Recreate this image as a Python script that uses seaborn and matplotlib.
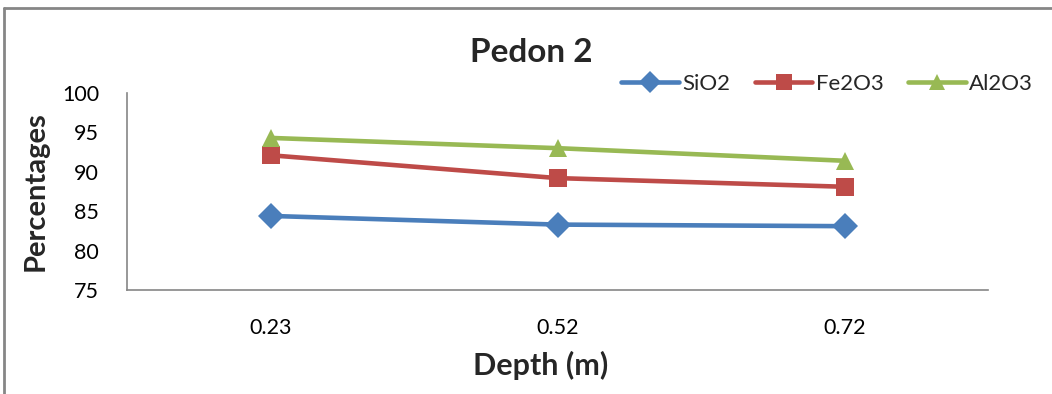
import matplotlib
matplotlib.use("Agg")
import matplotlib.pyplot as plt
import seaborn as sns
import pandas as pd
from matplotlib.lines import Line2D

depths = ["0.23", "0.52", "0.72"]
sio2 = [84.4, 83.3, 83.1]
fe2o3 = [92.1, 89.2, 88.1]
al2o3 = [94.3, 93.0, 91.4]
series_names = ["SiO2", "Fe2O3", "Al2O3"]
yticks = [75, 80, 85, 90, 95, 100]

sns.set_theme(style="white")
plt.rcParams['font.family'] = ['Lato', 'DejaVu Sans']

df = pd.DataFrame({
    "Depth": depths * 3,
    "Value": sio2 + fe2o3 + al2o3,
    "Series": [s for s in series_names for _ in depths],
})

colors = {"SiO2": "#4A7EBB", "Fe2O3": "#BE4B48", "Al2O3": "#98B954"}
markers = {"SiO2": "D", "Fe2O3": "s", "Al2O3": "^"}

fig = plt.figure(figsize=(10.52, 3.94), dpi=100)
ax = fig.add_axes([127/1052, 1 - 290/394, (988-127)/1052, (290-93)/394])

sns.lineplot(data=df, x="Depth", y="Value", hue="Series", style="Series",
             palette=colors, markers=markers, dashes=False, sort=False,
             linewidth=3.3, markersize=13, markeredgewidth=0, ax=ax)

ax.set_xlim(-0.5, 2.5)
ax.set_ylim(75, 100)
ax.set_yticks(yticks)
ax.tick_params(axis="both", length=0, labelsize=15.5, colors="black")
ax.tick_params(axis="x", pad=20)
ax.tick_params(axis="y", pad=20)
for s in ["top", "right"]:
    ax.spines[s].set_visible(False)
for s in ["left", "bottom"]:
    ax.spines[s].set_color("#868686")
    ax.spines[s].set_linewidth(1.2)

ax.set_xlabel("Depth (m)", fontsize=22, fontweight="bold", va="center")
ax.xaxis.set_label_coords((541-127)/861, (290-365)/197)
ax.set_ylabel("Percentages", fontsize=21, fontweight="bold", labelpad=10)
fig.text(531/1052, 1 - 52/394, "Pedon 2", ha="center", va="center",
         fontsize=24, fontweight="bold")

leg = ax.legend(loc="center", bbox_to_anchor=((827-127)/(988-127), (290-84)/(290-93)),
                ncol=3, frameon=False, fontsize=16, handlelength=2.6,
                columnspacing=1.1, handletextpad=0.15, title=None)
for h in leg.legend_handles:
    h.set_markersize(11)

fig.add_artist(Line2D([4/1052, 4/1052], [0, 1 - 7.5/394], transform=fig.transFigure,
                      color="#868686", linewidth=2))
fig.add_artist(Line2D([4/1052, 1], [1 - 7.5/394, 1 - 7.5/394], transform=fig.transFigure,
                      color="#868686", linewidth=2))

fig.savefig("out.png", dpi=100)
